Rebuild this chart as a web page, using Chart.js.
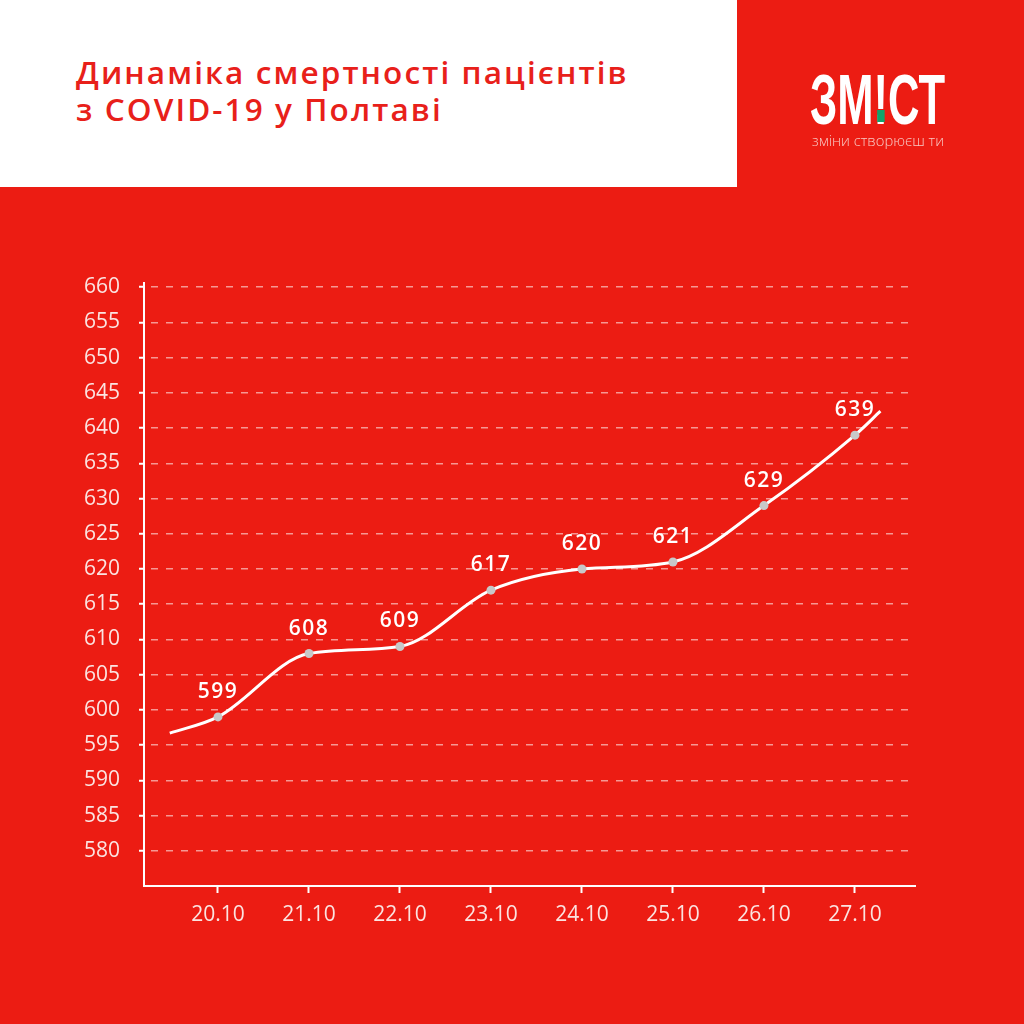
<!DOCTYPE html>
<html>
<head>
<meta charset="utf-8">
<script src="https://cdn.jsdelivr.net/npm/chart.js@4"></script>
<style>
  html, body { margin: 0; padding: 0; }
  body { width: 1024px; height: 1024px; background: #ec1c13; position: relative; overflow: hidden; font-family: "Open Sans", sans-serif; }
  #head { position: absolute; left: 0; top: 0; width: 737px; height: 187px; background: #fff; }
  #title { position: absolute; left: 76px; top: 53px; color: #e8201a; font-size: 31.5px; font-weight: 600; line-height: 37px; letter-spacing: 2.1px; }
  #logo { position: absolute; left: 810px; top: 65px; color: #fff; font-family: "Liberation Sans", sans-serif; font-weight: 700; font-size: 70px; line-height: 70px; white-space: nowrap; transform-origin: 0 0; }
  #logo .bang { position: relative; display: inline-block; }
  #logo .dot { position: absolute; left: 50%; margin-left: -6px; bottom: 13px; width: 12px; height: 12px; background: #0fa36b; }
  #tag { position: absolute; left: 812px; top: 131px; color: #f8c9c4; font-size: 14px; font-weight: 300; white-space: nowrap; transform-origin: 0 0; }
  #wrap { position: absolute; left: 0; top: 0; width: 1024px; height: 1024px; }
</style>
</head>
<body>
<div id="wrap"><canvas id="chart" width="1024" height="1024"></canvas></div>
<div id="head"><div id="title">Динаміка смертності пацієнтів<br>з COVID-19 у Полтаві</div></div>
<div id="logo">ЗМ<span class="bang">!<span class="dot"></span></span>СТ</div>
<div id="tag">зміни створюєш ти</div>
<script>
  // dates and deaths
  var labels = ['20.10', '21.10', '22.10', '23.10', '24.10', '25.10', '26.10', '27.10'];
  var deaths = [599, 608, 609, 617, 620, 621, 629, 639];
  // where the drawn line starts and ends outside the first/last dates
  var leadIn = { x: -0.53, y: 596.7 };
  var leadOut = { x: 7.28, y: 642.4 };

  var yTicks = [580, 585, 590, 595, 600, 605, 610, 615, 620, 625, 630, 635, 640, 645, 650, 655, 660];

  // squeeze the logo text to its width
  var logo = document.getElementById('logo');
  logo.style.transform = 'scaleX(' + (135 / logo.offsetWidth) + ')';
  var tag = document.getElementById('tag');
  tag.style.transform = 'scaleX(' + (132 / tag.offsetWidth) + ')';

  var points = [leadIn];
  deaths.forEach(function (v, i) { points.push({ x: i, y: v }); });
  points.push(leadOut);

  var valueLabels = {
    id: 'valueLabels',
    afterDatasetsDraw: function (chart) {
      var ctx = chart.ctx;
      var meta = chart.getDatasetMeta(0);
      ctx.save();
      ctx.fillStyle = '#ffffff';
      ctx.font = '600 21px "Open Sans"';
      ctx.letterSpacing = '1.5px';
      ctx.textAlign = 'center';
      ctx.textBaseline = 'middle';
      meta.data.forEach(function (el, i) {
        if (i === 0 || i === meta.data.length - 1) return;
        ctx.fillText(String(deaths[i - 1]), el.x, el.y - 25);
      });
      ctx.restore();
    }
  };

  var edgeRadius = function (c) { return (c.dataIndex === 0 || c.dataIndex === points.length - 1) ? 0 : 4.5; };

  new Chart(document.getElementById('chart'), {
    type: 'line',
    data: {
      datasets: [{
        data: points,
        borderColor: '#ffffff',
        borderWidth: 3,
        cubicInterpolationMode: 'monotone',
        pointRadius: edgeRadius,
        pointHoverRadius: edgeRadius,
        pointBackgroundColor: '#c8c8c8',
        pointBorderWidth: 0
      }]
    },
    options: {
      responsive: false,
      animation: false,
      layout: { padding: { top: 283, left: 0, right: 109, bottom: 0 } },
      plugins: { legend: { display: false }, tooltip: { enabled: false } },
      scales: {
        x: {
          type: 'linear',
          min: -0.813,
          max: 7.66,
          afterBuildTicks: function (s) { s.ticks = labels.map(function (l, i) { return { value: i }; }); },
          afterFit: function (s) { s.height = 1024 - 886; },
          border: { color: '#ffffff', width: 2 },
          grid: { drawOnChartArea: false, drawTicks: true, tickLength: 7, tickColor: '#ffffff', tickWidth: 2 },
          ticks: {
            color: '#fbe4e1',
            font: { family: 'Open Sans', size: 21 },
            padding: 9,
            maxRotation: 0,
            callback: function (v) { return labels[v]; }
          }
        },
        y: {
          min: 575,
          max: 660.6,
          afterBuildTicks: function (s) { s.ticks = yTicks.map(function (v) { return { value: v }; }); },
          afterFit: function (s) { s.width = 144; },
          border: { color: '#ffffff', width: 2, dash: [7, 8], dashOffset: -6 },
          grid: {
            color: 'rgba(255,255,255,0.55)',
            lineWidth: 1.5,
            tickColor: '#ffffff',
            tickBorderDash: [],
            tickLength: 5,
            tickWidth: 2
          },
          ticks: {
            color: '#fbe4e1',
            font: { family: 'Open Sans', size: 21 },
            padding: 19
          }
        }
      }
    },
    plugins: [valueLabels]
  });
</script>
</body>
</html>
